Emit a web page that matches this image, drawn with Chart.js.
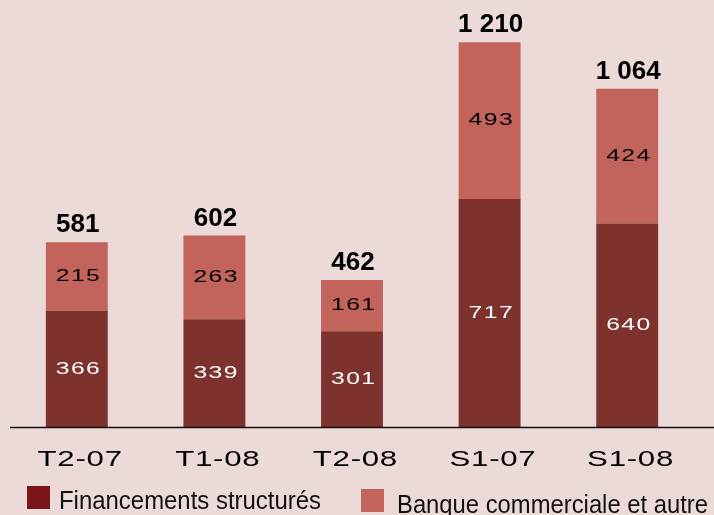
<!DOCTYPE html>
<html>
<head>
<meta charset="utf-8">
<script src="https://cdn.jsdelivr.net/npm/chart.js@4/dist/chart.umd.min.js"></script>
<style>
  body { margin: 0; background: #ecdad8; }
  #wrap { position: relative; width: 714px; height: 515px; }
  .leg { position: absolute; font-family: "Liberation Sans", Arial, sans-serif; font-size: 25px; line-height: 25px; color: #111; white-space: nowrap; transform-origin: left top; }
  .sq { position: absolute; width: 23px; height: 23px; }
</style>
</head>
<body>
<div id="wrap">
  <canvas id="chart" width="714" height="515"></canvas>
  <div class="sq" style="left:27px; top:486px; background:#7b1416;"></div>
  <div class="leg" id="leg1" style="left:59px; top:488px;">Financements structurés</div>
  <div class="sq" style="left:361px; top:489px; background:#c3645c;"></div>
  <div class="leg" id="leg2" style="left:397px; top:492px;">Banque commerciale et autre</div>
</div>
<script>
const categories = ["T2-07", "T1-08", "T2-08", "S1-07", "S1-08"];
const financements = [366, 339, 301, 717, 640];
const banque = [215, 263, 161, 493, 424];

const darkRed = "#7d322d";
const lightRed = "#c3645c";

// squeeze legend text to the narrow look of the original
function fitLegend(id, width) {
  const el = document.getElementById(id);
  const w = el.getBoundingClientRect().width;
  el.style.transform = `scaleX(${width / w})`;
}
fitLegend("leg1", 262);
fitLegend("leg2", 311);

function formatTotal(v) {
  return String(v).replace(/\B(?=(\d{3})+(?!\d))/g, " ");
}

// wide, slightly spaced text like the original export
function wideText(ctx, text, x, y, size, stretch, spacing, color, baseline) {
  ctx.save();
  ctx.font = `${size}px 'Liberation Sans', Arial, sans-serif`;
  ctx.letterSpacing = spacing + "px";
  ctx.textAlign = "center";
  ctx.textBaseline = baseline;
  ctx.fillStyle = color;
  ctx.translate(x + spacing * stretch / 2, y);
  ctx.scale(stretch, 1);
  ctx.fillText(text, 0, 0);
  ctx.restore();
}

const labelsPlugin = {
  id: "barLabels",
  afterDatasetsDraw(chart) {
    const ctx = chart.ctx;
    const m0 = chart.getDatasetMeta(0).data;
    const m1 = chart.getDatasetMeta(1).data;

    // values inside the segments
    m0.forEach((b, i) => wideText(ctx, String(financements[i]), b.x + 1, (b.y + b.base) / 2, 17, 1.45, 1, "#ffffff", "middle"));
    m1.forEach((b, i) => wideText(ctx, String(banque[i]), b.x + 1, (b.y + b.base) / 2, 17, 1.45, 1, "#000000", "middle"));

    // category labels along the x axis
    const xs = chart.scales.x;
    xs.getLabels().forEach((lab, i) => {
      wideText(ctx, lab, xs.getPixelForTick(i) + 3, chart.chartArea.bottom + 39, 22, 1.42, 0.5, "#000000", "alphabetic");
    });

    // totals above the bars
    ctx.save();
    ctx.font = "bold 26px 'Liberation Sans', Arial, sans-serif";
    ctx.textAlign = "center";
    ctx.textBaseline = "alphabetic";
    ctx.fillStyle = "#000000";
    m1.forEach((b, i) => {
      ctx.fillText(formatTotal(financements[i] + banque[i]), b.x + 1, b.y - 10);
    });

    // baseline
    ctx.strokeStyle = "#111111";
    ctx.lineWidth = 1.5;
    ctx.beginPath();
    ctx.moveTo(10, chart.chartArea.bottom + 0.5);
    ctx.lineTo(714, chart.chartArea.bottom + 0.5);
    ctx.stroke();
    ctx.restore();
  }
};

new Chart(document.getElementById("chart"), {
  type: "bar",
  data: {
    labels: categories,
    datasets: [
      { label: "Financements structurés", data: financements, backgroundColor: darkRed, categoryPercentage: 1, barPercentage: 0.45 },
      { label: "Banque commerciale et autre", data: banque, backgroundColor: lightRed, categoryPercentage: 1, barPercentage: 0.45 }
    ]
  },
  options: {
    responsive: false,
    animation: false,
    layout: { padding: { left: 8, right: 18, top: 0, bottom: 0 } },
    plugins: { legend: { display: false }, tooltip: { enabled: false } },
    scales: {
      x: {
        stacked: true,
        grid: { display: false },
        border: { display: false },
        ticks: { display: false },
        afterFit(scale) { scale.height = 88; }
      },
      y: {
        stacked: true,
        display: false,
        min: 0,
        max: 1343
      }
    }
  },
  plugins: [labelsPlugin]
});
</script>
</body>
</html>
